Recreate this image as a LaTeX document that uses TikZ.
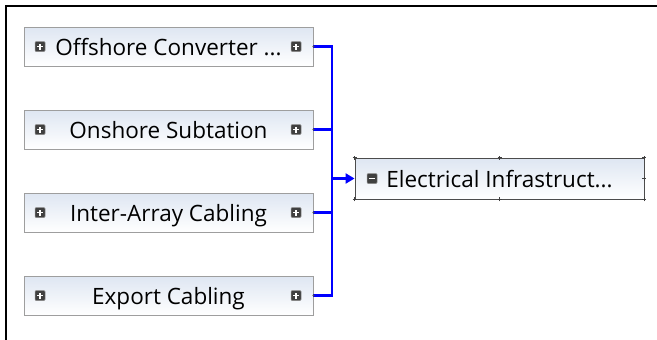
\documentclass[tikz,border=0pt]{standalone}
\usepackage{fontspec}
\setmainfont{Open Sans}
\usetikzlibrary{arrows.meta}
\begin{document}
\begin{tikzpicture}[x=1pt,y=-1pt,
  box/.style={draw=black!38, line width=0.9pt, top color={rgb,255:red,222;green,230;blue,242}, bottom color=white,
    minimum width=289pt, minimum height=39pt, inner sep=0pt, text height=18.5pt, text depth=0pt,
    font=\fontsize{22.5}{26}\selectfont},
  tbox/.style={box, draw=black!70, minimum height=41pt},
  icon/.style={rectangle, fill=black!75, draw=black!45, line width=0.5pt, rounded corners=1pt, minimum size=10pt, inner sep=0pt, text height=, text depth=},
  plusicon/.style={icon, path picture={
    \draw[white,line width=1.6pt] ([xshift=-3pt]path picture bounding box.center) -- ([xshift=3pt]path picture bounding box.center);
    \draw[white,line width=1.6pt] ([yshift=-3pt]path picture bounding box.center) -- ([yshift=3pt]path picture bounding box.center);}},
  minusicon/.style={icon, path picture={
    \draw[white,line width=1.6pt] ([xshift=-3pt]path picture bounding box.center) -- ([xshift=3pt]path picture bounding box.center);}},
  bus/.style={draw={rgb,255:red,0;green,0;blue,255}, line width=2.6pt},
  frame/.style={line width=2.6pt, black},
  handle/.style={black!75, line width=0.8pt}
]
\useasboundingbox (0,0) rectangle (657,340);
\fill[white] (0,0) rectangle (657,340);
% frame
\coordinate (fTL) at (6,6);
\coordinate (fTR) at (657,6);
\coordinate (fBL) at (6,340);
\draw[frame] (fTR) -- (fTL) -- (fBL);

% source boxes
\node[box] (b1) at (168.5,46.5) {Offshore Converter ...};
\node[box] (b2) at (168.5,129.5) {Onshore Subtation};
\node[box] (b3) at (168.5,212.5) {Inter-Array Cabling};
\node[box] (b4) at (168.5,295.5) {Export Cabling};

% icons
\foreach \i/\y in {1/46.5,2/129.5,3/212.5,4/295.5}{
  \node[plusicon] (l\i) at (40,\y) {};
  \node[plusicon] (r\i) at (296,\y) {};
}

% target
\node[tbox] (E) at (499.5,178.5) {Electrical Infrastruct...};
\node[minusicon] (m) at (372,178.5) {};
% handles
\foreach \a in {north west,north,north east,south west,south,south east,east}{
  \draw[handle] ([xshift=-2pt]E.\a) -- ([xshift=2pt]E.\a);
  \draw[handle] ([yshift=-2pt]E.\a) -- ([yshift=2pt]E.\a);
}

% connectors
\coordinate (J) at (332,178.5);
\foreach \i in {1,2,3,4}{
  \draw[bus] (b\i.east) -| (J);
  \fill[black!70] (b\i.east) circle (1.2pt);
}
\draw[bus, -{Triangle[length=9pt,width=10pt]}, shorten >=0pt] (J) -- (E.west);
\end{tikzpicture}
\end{document}
